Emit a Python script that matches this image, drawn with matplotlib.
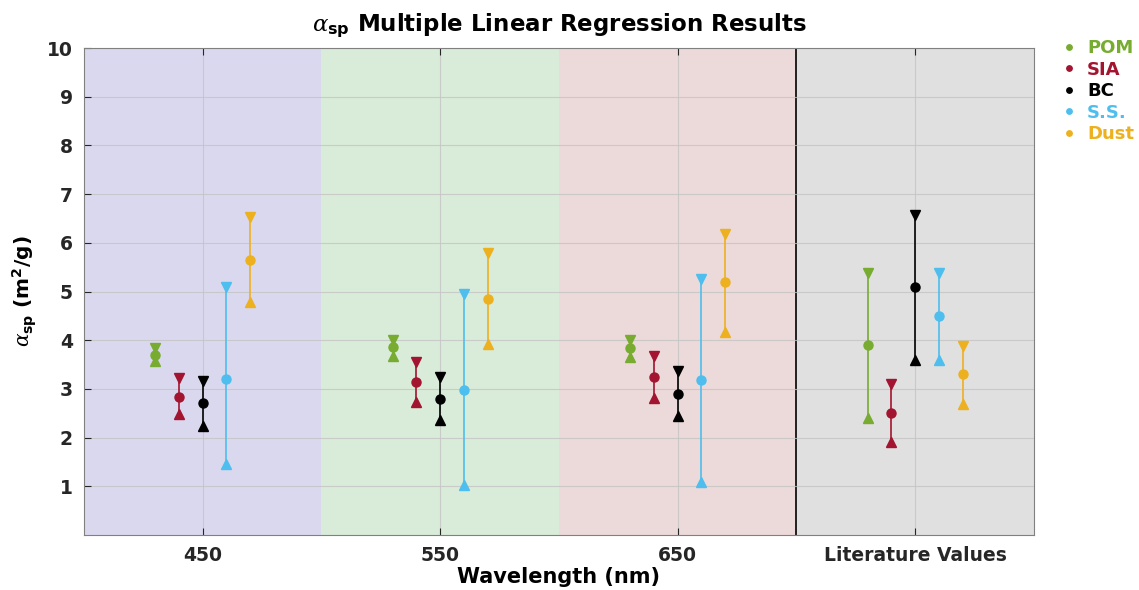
import matplotlib
matplotlib.use("Agg")
import matplotlib.pyplot as plt
import numpy as np

# x positions of the groups (literature values sit at 750)
groups = [450, 550, 650, 750]
group_labels = ["450", "550", "650", "Literature Values"]
species = ["POM", "SIA", "BC", "S.S.", "Dust"]
colors = ["#77AC30", "#A2142F", "#000000", "#4DBEEE", "#EDB120"]
offsets = [-20, -10, 0, 10, 20]

# centre, lower, upper for each species across the four groups
pom_mid = [3.70, 3.86, 3.84, 3.90]
pom_lo = [3.57, 3.68, 3.66, 2.40]
pom_hi = [3.83, 4.01, 4.01, 5.38]

sia_mid = [2.84, 3.14, 3.24, 2.50]
sia_lo = [2.49, 2.74, 2.81, 1.90]
sia_hi = [3.22, 3.55, 3.68, 3.10]

bc_mid = [2.71, 2.79, 2.89, 5.10]
bc_lo = [2.24, 2.36, 2.44, 3.60]
bc_hi = [3.16, 3.24, 3.36, 6.58]

ss_mid = [3.20, 2.98, 3.18, 4.50]
ss_lo = [1.45, 1.03, 1.09, 3.60]
ss_hi = [5.09, 4.95, 5.25, 5.38]

dust_mid = [5.65, 4.85, 5.19, 3.30]
dust_lo = [4.78, 3.92, 4.17, 2.70]
dust_hi = [6.53, 5.79, 6.18, 3.88]

mids = [pom_mid, sia_mid, bc_mid, ss_mid, dust_mid]
los = [pom_lo, sia_lo, bc_lo, ss_lo, dust_lo]
his = [pom_hi, sia_hi, bc_hi, ss_hi, dust_hi]

bg_colors = ["#DAD8EE", "#D9EBD9", "#ECD9D9", "#E0E0E0"]

plt.rcParams["font.family"] = "DejaVu Sans"
plt.rcParams["font.weight"] = "bold"
plt.rcParams["mathtext.fontset"] = "custom"
plt.rcParams["mathtext.it"] = "DejaVu Serif:style=italic:weight=normal"
plt.rcParams["mathtext.rm"] = "DejaVu Sans:weight=bold"
plt.rcParams["mathtext.bf"] = "DejaVu Sans:weight=bold"

fig = plt.figure(figsize=(11.39, 5.90), dpi=100)
ax = fig.add_axes([0.0737, 0.0932, 0.8341, 0.8254])

for g, c in zip(groups, bg_colors):
    ax.axvspan(g - 50, g + 50, color=c, lw=0, zorder=0)
ax.axvline(700, color="black", lw=1.2, zorder=1)

for name, col, off, mid, lo, hi in zip(species, colors, offsets, mids, los, his):
    x = np.array(groups) + off
    for xi, m, l, h in zip(x, mid, lo, hi):
        ax.plot([xi, xi], [l, h], color=col, lw=1.2, zorder=3)
    ax.plot(x, hi, linestyle="none", marker="v", color=col, ms=7, zorder=4)
    ax.plot(x, lo, linestyle="none", marker="^", color=col, ms=7, zorder=4)
    ax.plot(x, mid, linestyle="none", marker="o", color=col, ms=6.5, zorder=5, label=name)

ax.set_xlim(400, 800)
ax.set_ylim(0, 10)
ax.set_xticks(groups)
ax.set_xticklabels(group_labels)
ax.set_yticks(range(1, 11))
ax.grid(True, color="#C4C4C4", lw=0.8, alpha=0.8)
for line in ax.get_xgridlines() + ax.get_ygridlines():
    line.set_zorder(2)
ax.tick_params(direction="in", length=5, labelsize=13.5, colors="#262626",
               top=True, right=False, pad=8)
for s in ax.spines.values():
    s.set_color("#808080")
    s.set_linewidth(0.8)

ax.set_xlabel("Wavelength (nm)", fontsize=15, fontweight="bold", labelpad=1)
ax.set_ylabel(r"$\alpha_{\mathbf{sp}}$ (m$^{\mathbf{2}}$/g)", fontsize=14.5, fontweight="bold",
              labelpad=6)
ax.set_title(r"$\alpha_{\mathbf{sp}}$ Multiple Linear Regression Results", fontsize=16.5,
             fontweight="bold", pad=12)

leg = ax.legend(loc="upper left", bbox_to_anchor=(1.012, 1.052), frameon=False,
                handlelength=0.8, handletextpad=0.6, labelspacing=0.2,
                prop={"weight": "bold", "size": 13}, markerscale=0.6)
for txt, col in zip(leg.get_texts(), colors):
    txt.set_color(col)

fig.savefig("out.png", dpi=100)
